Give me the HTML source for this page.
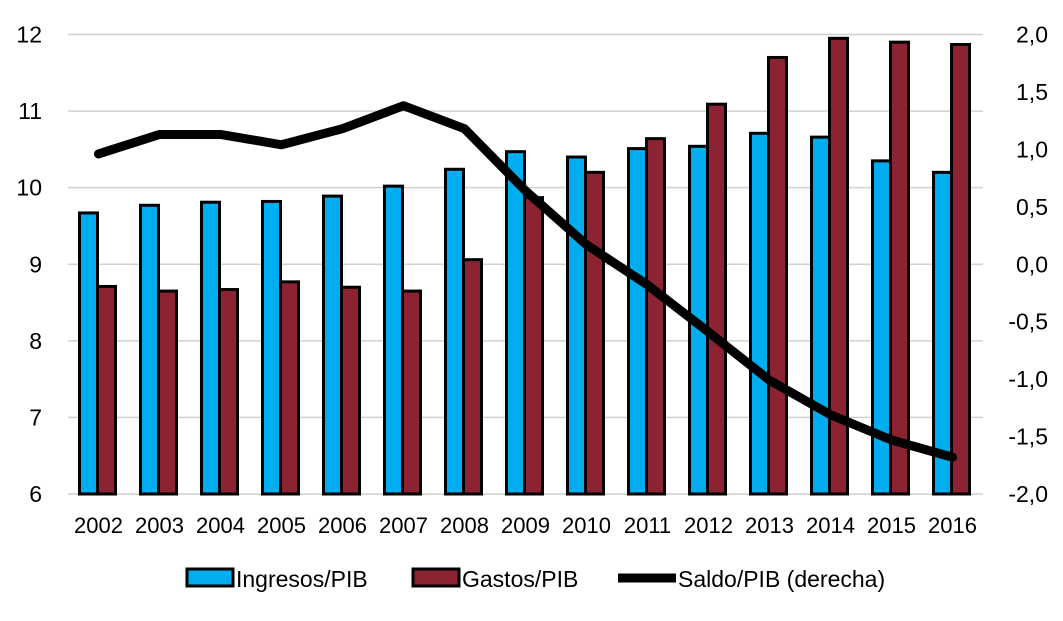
<!DOCTYPE html>
<html><head><meta charset="utf-8"><style>
body{margin:0;background:#fff}
text{font-family:"Liberation Sans",sans-serif;fill:#000}
</style></head><body>
<svg id="c" width="1063" height="616"></svg>
<script>
const years=["2002","2003","2004","2005","2006","2007","2008","2009","2010","2011","2012","2013","2014","2015","2016"];
const ingresos=[9.67,9.77,9.81,9.82,9.89,10.02,10.24,10.47,10.40,10.51,10.54,10.71,10.66,10.35,10.20];
const gastos=[8.71,8.65,8.67,8.77,8.70,8.65,9.06,9.87,10.20,10.64,11.09,11.70,11.95,11.90,11.87];
const saldo=[0.96,1.13,1.13,1.04,1.18,1.38,1.18,0.64,0.17,-0.18,-0.59,-1.01,-1.31,-1.53,-1.68];
const leftTicks=[6,7,8,9,10,11,12];
const rightTicks=[-2,-1.5,-1,-0.5,0,0.5,1,1.5,2];
const NS="http://www.w3.org/2000/svg",svg=document.getElementById('c');
const x0=68,x1=983,yTop=34.5,yBot=494;
const yL=v=>yBot-(v-6)/6*(yBot-yTop);
const yR=v=>yBot-(v+2)/4*(yBot-yTop);
const bw=(x1-x0)/years.length;
const cx=i=>x0+bw*(i+0.5);
function el(t,a,p){const e=document.createElementNS(NS,t);for(const k in a)e.setAttribute(k,a[k]);(p||svg).appendChild(e);return e;}
leftTicks.forEach(v=>{
 const g=el('line',{x1:x0,x2:x1,y1:yL(v),y2:yL(v),stroke:'#d0d0d0','stroke-width':1.5});
 
 const t=el('text',{x:42,y:yL(v)+8,'font-size':23,'text-anchor':'end'});t.textContent=v;
 
});
rightTicks.forEach(v=>{
 const t=el('text',{x:1048,y:yR(v)+8,'font-size':23,'text-anchor':'end'});t.textContent=v.toFixed(1).replace('.',',');
 
});
years.forEach((y,i)=>{
 const b=el('rect',{x:cx(i)-19,y:yL(ingresos[i]),width:18,height:yBot-yL(ingresos[i]),fill:'#00aeef',stroke:'#000','stroke-width':3});
 
 const r=el('rect',{x:cx(i)-1,y:yL(gastos[i]),width:18,height:yBot-yL(gastos[i]),fill:'#8b2332',stroke:'#000','stroke-width':3});
 
 const t=el('text',{x:cx(i),y:533,'font-size':22,'text-anchor':'middle'});t.textContent=y;
 
});
const l=el('polyline',{points:saldo.map((v,i)=>cx(i)+','+yR(v)).join(' '),fill:'none',stroke:'#000','stroke-width':9,'stroke-linecap':'round','stroke-linejoin':'round'});

const lg=el('g',{});
const a=el('rect',{x:187,y:569,width:46,height:17,fill:'#00aeef',stroke:'#000','stroke-width':3},lg);

const at=el('text',{x:236,y:587,'font-size':23},lg);at.textContent='Ingresos/PIB';

const bsw=el('rect',{x:413,y:569,width:46,height:17,fill:'#8b2332',stroke:'#000','stroke-width':3},lg);

const bt=el('text',{x:462,y:587,'font-size':23},lg);bt.textContent='Gastos/PIB';

const ls=el('line',{x1:618,x2:676,y1:578,y2:578,stroke:'#000','stroke-width':9},lg);

const lt=el('text',{x:678,y:587,'font-size':23},lg);lt.textContent='Saldo/PIB (derecha)';

</script>
</body></html>
